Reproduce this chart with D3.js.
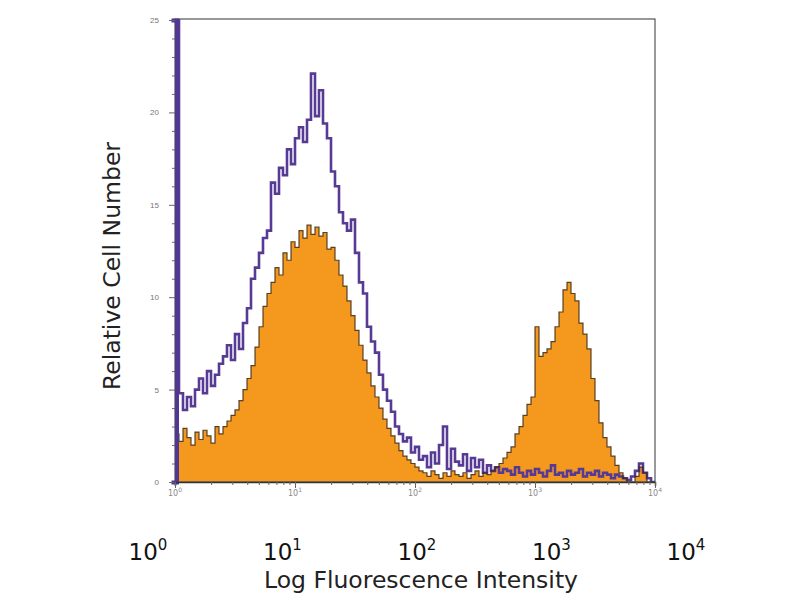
<!DOCTYPE html>
<html>
<head>
<meta charset="utf-8">
<script src="https://cdn.jsdelivr.net/npm/d3@7"></script>
<style>
  body { margin: 0; background: #fff; }
  svg { display: block; font-family: "DejaVu Sans", Verdana, sans-serif; }
</style>
</head>
<body>
<svg id="chart" width="800" height="600"></svg>
<script>
// ── Data ───────────────────────────────────────────────────────────────────
const binsPerDecade = 30;
const decadeExponents = [0, 1, 2, 3, 4];
const yTickValues = [0, 5, 10, 15, 20, 25];

// counts per channel bin, 30 bins per decade from 10^0 to 10^4
const purpleCounts = [
  30, 4.8, 3.9, 4.6, 4.1, 5.0, 5.6, 4.8, 6.0, 5.2, 5.8, 6.4,
  6.8, 7.4, 6.6, 8.0, 7.2, 8.6, 9.4,
  11.0, 11.6, 12.4, 13.2, 13.6, 16.2, 15.6, 17.0, 16.6, 18.0,
  17.2, 18.6, 19.2, 18.4, 19.6, 22.1, 19.8, 21.2, 19.4, 18.6,
  16.8, 16.0, 14.6, 14.0, 13.6, 14.2, 12.4, 10.8, 10.2, 8.4,
  7.6, 7.0, 5.8, 5.0, 4.4, 3.8, 3.0, 2.6, 2.2, 2.4, 1.6, 1.9, 1.2,
  1.4, 0.8, 1.6, 1.0, 2.0, 3.0, 0.7, 1.8, 1.1, 0.9, 1.5,
  0.6, 1.3, 0.8, 1.2, 0.5, 0.9, 0.6, 0.8, 0.5, 0.7,
  0.6, 0.4, 0.8, 0.5, 0.3, 0.6, 0.4, 0.7, 0.5, 0.3,
  0.6, 0.9, 0.4, 0.5, 0.3, 0.6, 0.4, 0.5, 0.7, 0.3,
  0.5, 0.4, 0.6, 0.3, 0.5, 0.4, 0.2, 0.4, 0.3, 0.2,
  0.1, 0.3, 0.6, 1.0, 0.5, 0.2, 0
];

const orangeCounts = [
  2.6, 2.2, 2.9, 2.4, 2.0, 2.7, 2.3, 2.8, 2.5, 2.1, 3.0, 2.6,
  3.0, 3.3, 3.6, 3.9, 4.4, 5.0, 5.6, 6.3,
  7.3, 8.4, 9.5, 10.2, 10.8, 11.6, 11.2, 12.4, 12.0, 13.0,
  12.7, 13.6, 13.2, 13.9, 13.4, 13.8, 13.3, 13.5, 12.6, 12.7,
  12.0, 11.2, 10.6, 9.8, 9.0, 8.2, 7.4, 6.6, 5.9, 5.2,
  4.6, 4.0, 3.4, 2.9, 2.5, 2.1, 1.7, 1.4, 1.2, 1.0, 0.8, 0.6,
  0.5, 0.3, 0.6, 0.4, 0.2, 0.5, 0.3, 0.6, 0.4, 0.3, 0.5,
  0.2, 0.4, 0.6, 0.3, 0.5, 0.4, 0.6, 0.8, 1.0, 1.3,
  1.6, 1.9, 2.6, 3.0, 3.6, 4.2, 4.6, 8.4, 6.8, 7.0,
  7.2, 7.6, 8.4, 9.2, 10.4, 10.8, 10.2, 9.8, 8.6, 8.0,
  7.2, 5.6, 4.4, 3.2, 2.4, 1.9, 1.4, 0.9, 0.5, 0.2,
  0, 0, 0.3, 0.8, 0.5, 0, 0
];

// ── Layout ─────────────────────────────────────────────────────────────────
const plot = { left: 175, right: 655, top: 19, bottom: 482 };
const svg = d3.select('#chart');

const x = d3.scaleLog().domain([1, 1e4]).range([plot.left, plot.right]);
const y = d3.scaleLinear().domain([0, 25]).range([plot.bottom, 20]);

// big decade labels sit on their own (slightly wider) spacing below the plot
const bigLabelX = d3.scaleLinear().domain([0, 4]).range([148, 686]);

const binEdge = i => Math.pow(10, i / binsPerDecade);
const toSteps = counts => counts.map((c, i) => ({ x: binEdge(i), y: c }))
  .concat([{ x: binEdge(counts.length), y: counts[counts.length - 1] }]);

svg.append('clipPath').attr('id', 'plot-clip')
  .append('rect')
  .attr('x', plot.left).attr('y', plot.top)
  .attr('width', plot.right - plot.left).attr('height', plot.bottom - plot.top);

const stepLine = d3.line()
  .x(d => x(d.x))
  .y(d => y(Math.min(d.y, 26)))
  .curve(d3.curveStepAfter);

const stepArea = d3.area()
  .x(d => x(d.x))
  .y0(y(0))
  .y1(d => y(d.y))
  .curve(d3.curveStepAfter);

const layer = svg.append('g').attr('clip-path', 'url(#plot-clip)');

// orange filled histogram
layer.append('path')
  .attr('d', stepArea(toSteps(orangeCounts)))
  .attr('fill', '#f5981e');

// purple overlay histogram
layer.append('path')
  .attr('d', stepLine(toSteps(purpleCounts)))
  .attr('fill', 'none')
  .attr('stroke', '#573a94')
  .attr('stroke-width', 2.6);

// dark outline of the orange histogram
layer.append('path')
  .attr('d', stepLine(toSteps(orangeCounts)))
  .attr('fill', 'none')
  .attr('stroke', '#3d2812')
  .attr('stroke-width', 1.2)
  .attr('opacity', 0.85);

// ── Frame ──────────────────────────────────────────────────────────────────
svg.append('rect')
  .attr('x', plot.left).attr('y', plot.top)
  .attr('width', plot.right - plot.left).attr('height', plot.bottom - plot.top)
  .attr('fill', 'none')
  .attr('stroke', '#555')
  .attr('stroke-width', 1.2);

// ── Y axis ─────────────────────────────────────────────────────────────────
const yAxis = svg.append('g')
  .attr('transform', `translate(${plot.left},0)`)
  .call(d3.axisLeft(y)
    .tickValues(d3.range(0, 26))
    .tickSize(5)
    .tickFormat(d => yTickValues.includes(d) ? d : ''));
// the first purple bin is off-scale, so the left edge reads as one thick purple band
yAxis.select('.domain')
  .attr('stroke', '#523792')
  .attr('stroke-width', 4)
  .attr('transform', 'translate(1.5,0)');
yAxis.selectAll('.tick line')
  .attr('stroke', '#666')
  .attr('x2', d => yTickValues.includes(d) ? -6 : -3);
yAxis.selectAll('.tick text')
  .attr('x', -16)
  .attr('fill', '#777')
  .attr('font-size', 8);

// ── X axis ─────────────────────────────────────────────────────────────────
const minorTicks = [];
decadeExponents.slice(0, -1).forEach(e => {
  d3.range(1, 10).forEach(m => minorTicks.push(m * Math.pow(10, e)));
});
minorTicks.push(1e4);

const xAxis = svg.append('g')
  .attr('transform', `translate(0,${plot.bottom})`)
  .call(d3.axisBottom(x).tickValues(minorTicks).tickSize(4).tickFormat(''));
xAxis.select('.domain').attr('stroke', '#333').attr('stroke-width', 1.5);
xAxis.selectAll('.tick line').attr('stroke', '#666')
  .attr('y2', d => Number.isInteger(Math.log10(d)) ? 6 : 3);

// tiny decade labels under the plot
const smallLabels = svg.append('g').attr('fill', '#888').attr('font-size', 8);
decadeExponents.forEach(e => {
  const t = smallLabels.append('text')
    .attr('x', x(Math.pow(10, e)))
    .attr('y', plot.bottom + 14)
    .attr('text-anchor', 'middle');
  t.append('tspan').text('10');
  t.append('tspan').attr('font-size', 6).attr('dy', -4).text(e);
});

// big decade labels
const bigLabels = svg.append('g').attr('fill', '#111').attr('font-size', 23);
decadeExponents.forEach(e => {
  const t = bigLabels.append('text')
    .attr('x', bigLabelX(e))
    .attr('y', 560)
    .attr('text-anchor', 'middle');
  t.append('tspan').text('10');
  t.append('tspan').attr('font-size', 15).attr('dy', -10).text(e);
});

// ── Axis titles ────────────────────────────────────────────────────────────
svg.append('text')
  .attr('x', 421).attr('y', 588)
  .attr('text-anchor', 'middle')
  .attr('font-size', 23.5)
  .attr('fill', '#222')
  .text('Log Fluorescence Intensity');

svg.append('text')
  .attr('transform', 'translate(120,266) rotate(-90)')
  .attr('text-anchor', 'middle')
  .attr('font-size', 23.5)
  .attr('fill', '#222')
  .text('Relative Cell Number');
</script>
</body>
</html>
